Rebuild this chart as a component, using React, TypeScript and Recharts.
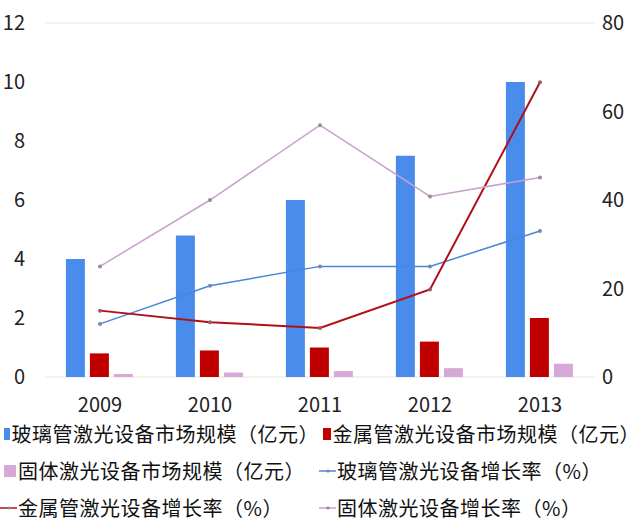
import React from "react";
import { ComposedChart, Bar, Line, XAxis, YAxis, CartesianGrid, Legend } from "recharts";

const years = ["2009", "2010", "2011", "2012", "2013"];
const glassSize = [4.0, 4.8, 6.0, 7.5, 10.0];
const metalSize = [0.8, 0.9, 1.0, 1.2, 2.0];
const solidSize = [0.1, 0.15, 0.2, 0.3, 0.45];
const glassGrowth = [12.0, 20.6, 25.0, 25.0, 33.0];
const metalGrowth = [15.0, 12.4, 11.1, 19.8, 66.6];
const solidGrowth = [25.0, 40.0, 56.9, 40.8, 45.1];
const leftTicks = [0, 2, 4, 6, 8, 10, 12];
const rightTicks = [0, 20, 40, 60, 80];

const names = {
  glassSize: "玻璃管激光设备市场规模（亿元）",
  metalSize: "金属管激光设备市场规模（亿元）",
  solidSize: "固体激光设备市场规模（亿元）",
  glassGrowth: "玻璃管激光设备增长率（%）",
  metalGrowth: "金属管激光设备增长率（%）",
  solidGrowth: "固体激光设备增长率（%）",
};

const data = years.map((y, i) => ({
  year: y,
  glassSize: glassSize[i],
  metalSize: metalSize[i],
  solidSize: solidSize[i],
  glassGrowth: glassGrowth[i],
  metalGrowth: metalGrowth[i],
  solidGrowth: solidGrowth[i],
}));

const FONT = '"Noto Sans CJK SC", "Noto Sans", sans-serif';

const legendItems = [
  { key: "glassSize", color: "#4a8cec", type: "square" },
  { key: "metalSize", color: "#c00000", type: "square" },
  { key: "solidSize", color: "#d6a8d8", type: "square" },
  { key: "glassGrowth", color: "#4a86d8", type: "line" },
  { key: "metalGrowth", color: "#b01018", type: "line" },
  { key: "solidGrowth", color: "#c9a2cb", type: "line" },
];

const renderLegend = () => (
  <div style={{ display: "grid", gridTemplateColumns: "319px 321px", fontFamily: FONT, fontSize: 20, letterSpacing: 0.5, color: "#111" }}>
    {legendItems.map((it) => (
      <div key={it.key} style={{ display: "flex", alignItems: "center", height: 37, whiteSpace: "nowrap" }}>
        {it.type === "square" ? (
          <span style={{ display: "inline-block", width: 12, height: 12, background: it.color, marginLeft: 4, marginRight: 2 }} />
        ) : (
          <svg width={17} height={12} style={{ marginLeft: 0, marginRight: 1 }}>
            <line x1={0} y1={6} x2={17} y2={6} stroke={it.color} strokeWidth={1.5} />
            <circle cx={9} cy={6} r={1.6} fill="#888" />
          </svg>
        )}
        <span>{(names as any)[it.key]}</span>
      </div>
    ))}
  </div>
);

export default function App() {
  return (
    <div style={{ position: "absolute", left: 0, top: 0, background: "#fff" }}>
      <ComposedChart
        width={640}
        height={530}
        data={data}
        margin={{ top: 23, right: 0, bottom: 0, left: 0 }}
        barCategoryGap="19%"
        barGap={5}
      >
        <CartesianGrid vertical={false} stroke="#e3e3e3" />
        <XAxis
          dataKey="year"
          axisLine={false}
          tickLine={false}
          tickSize={0}
          tickMargin={21}
          height={38}
          tick={{ fontSize: 20, fill: "#222", fontFamily: FONT }}
        />
        <YAxis
          yAxisId="left"
          domain={[0, 12]}
          ticks={leftTicks}
          axisLine={false}
          tickLine={false}
          tickSize={0}
          tickMargin={20}
          width={45}
          tick={{ fontSize: 20, fill: "#222", fontFamily: FONT }}
        />
        <YAxis
          yAxisId="right"
          orientation="right"
          domain={[0, 80]}
          ticks={rightTicks}
          axisLine={false}
          tickLine={false}
          tickSize={0}
          tickMargin={7}
          width={45}
          tick={{ fontSize: 20, fill: "#222", fontFamily: FONT, textAnchor: "start" }}
        />
        <Bar yAxisId="left" dataKey="glassSize" name={names.glassSize} fill="#4a8cec" isAnimationActive={false} />
        <Bar yAxisId="left" dataKey="metalSize" name={names.metalSize} fill="#c00000" isAnimationActive={false} />
        <Bar yAxisId="left" dataKey="solidSize" name={names.solidSize} fill="#d6a8d8" isAnimationActive={false} />
        <Line yAxisId="right" dataKey="glassGrowth" name={names.glassGrowth} stroke="#4a86d8" strokeWidth={1.5}
          dot={{ r: 2, fill: "#7a86a8", stroke: "none" }} isAnimationActive={false} />
        <Line yAxisId="right" dataKey="metalGrowth" name={names.metalGrowth} stroke="#b01018" strokeWidth={2}
          dot={{ r: 2, fill: "#9a5a6a", stroke: "none" }} isAnimationActive={false} />
        <Line yAxisId="right" dataKey="solidGrowth" name={names.solidGrowth} stroke="#c9a2cb" strokeWidth={1.5}
          dot={{ r: 2, fill: "#9a8a9e", stroke: "none" }} isAnimationActive={false} />
        <Legend content={renderLegend} height={115} wrapperStyle={{ left: 0, top: 415, width: 640, height: 115 }} />
      </ComposedChart>
    </div>
  );
}
